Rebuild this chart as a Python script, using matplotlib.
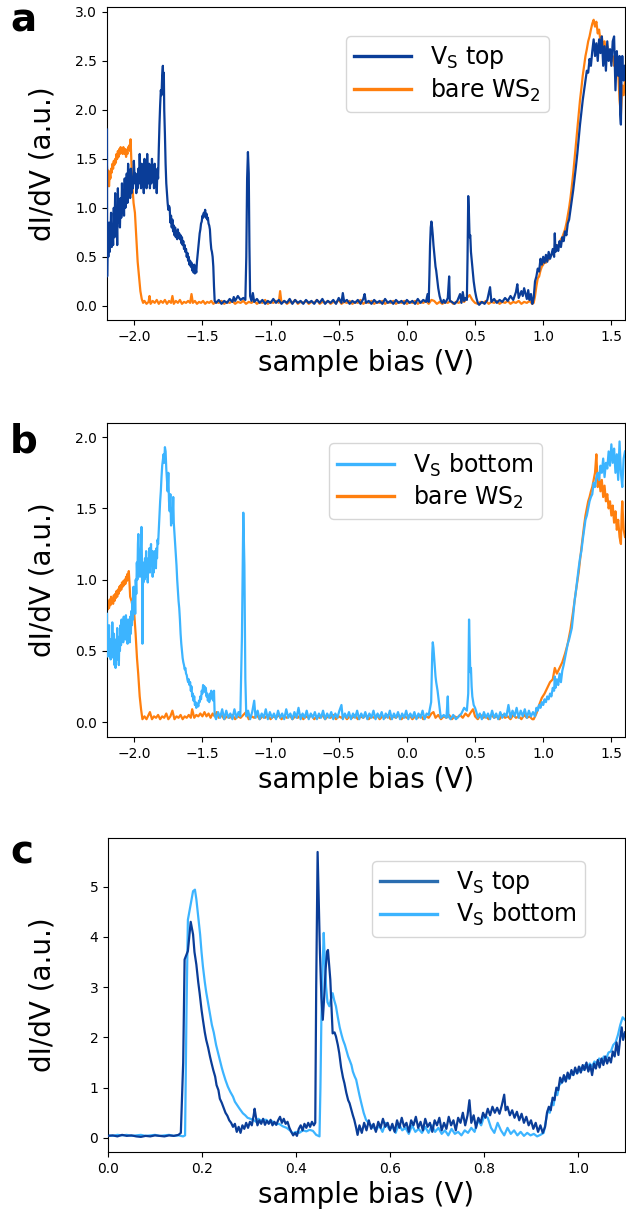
import numpy as np
import matplotlib
matplotlib.use("Agg")
import matplotlib.pyplot as plt

# colours
DARK = "#0a3d98"
LIGHT = "#3cb4ff"
ORANGE = "#ff7f0e"
TOP_LEGEND_C = "#2a6db0"

# ---------------- panel a : V_S top vs bare WS2 ----------------
a_top = [
    (-2.200, 1.80), (-2.199, 0.30), (-2.195, 0.75), (-2.190, 0.50), (-2.185, 0.85), (-2.180, 0.55),
    (-2.175, 0.70), (-2.170, 0.95), (-2.165, 0.60), (-2.160, 0.80), (-2.155, 0.62), (-2.150, 1.00),
    (-2.145, 0.70), (-2.140, 1.15), (-2.135, 0.72), (-2.130, 0.95), (-2.125, 0.62), (-2.120, 1.20),
    (-2.115, 0.85), (-2.110, 1.05), (-2.105, 0.80), (-2.100, 1.10), (-2.095, 0.90), (-2.090, 1.25),
    (-2.085, 0.95), (-2.080, 1.15), (-2.075, 0.92), (-2.070, 1.30), (-2.065, 1.00), (-2.060, 1.12),
    (-2.055, 1.35), (-2.050, 1.05), (-2.045, 1.45), (-2.040, 1.20), (-2.035, 1.32), (-2.030, 1.10),
    (-2.025, 1.40), (-2.020, 1.15), (-2.015, 1.30), (-2.010, 1.20), (-2.003, 1.48), (-1.995, 1.25),
    (-1.990, 1.35), (-1.985, 1.15), (-1.980, 1.30), (-1.975, 1.20), (-1.970, 1.40), (-1.965, 1.25),
    (-1.960, 1.55), (-1.955, 1.30), (-1.950, 1.20), (-1.945, 1.45), (-1.940, 1.25), (-1.935, 1.35),
    (-1.930, 1.15), (-1.925, 1.50), (-1.920, 1.30), (-1.915, 1.40), (-1.910, 1.20), (-1.905, 1.55),
    (-1.900, 1.30), (-1.895, 1.25), (-1.890, 1.45), (-1.885, 1.20), (-1.880, 1.35), (-1.875, 1.25),
    (-1.870, 1.50), (-1.865, 1.30), (-1.860, 1.40), (-1.855, 1.20), (-1.850, 1.45), (-1.845, 1.25),
    (-1.840, 1.35), (-1.835, 1.15), (-1.830, 1.40), (-1.825, 1.30), (-1.820, 1.60), (-1.815, 1.85),
    (-1.810, 2.05), (-1.805, 2.20), (-1.800, 2.15), (-1.795, 2.35), (-1.790, 2.45), (-1.787, 2.20),
    (-1.783, 2.38), (-1.780, 2.00), (-1.775, 1.75), (-1.770, 1.45), (-1.765, 1.25), (-1.760, 1.15),
    (-1.755, 1.05), (-1.750, 0.98), (-1.745, 1.02), (-1.740, 1.00), (-1.735, 0.85), (-1.730, 0.92),
    (-1.725, 0.80), (-1.720, 0.88), (-1.715, 0.76), (-1.710, 0.82), (-1.705, 0.72), (-1.700, 0.80),
    (-1.695, 0.70), (-1.690, 0.76), (-1.685, 0.68), (-1.680, 0.78), (-1.675, 0.70), (-1.670, 0.74),
    (-1.665, 0.68), (-1.660, 0.72), (-1.655, 0.64), (-1.650, 0.70), (-1.645, 0.62), (-1.640, 0.66),
    (-1.635, 0.58), (-1.630, 0.62), (-1.625, 0.55), (-1.620, 0.58), (-1.615, 0.50), (-1.610, 0.54),
    (-1.605, 0.46), (-1.600, 0.50), (-1.595, 0.42), (-1.590, 0.46), (-1.585, 0.40), (-1.580, 0.44),
    (-1.575, 0.36), (-1.570, 0.40), (-1.565, 0.34), (-1.560, 0.42), (-1.555, 0.33), (-1.550, 0.38),
    (-1.545, 0.34), (-1.540, 0.45), (-1.535, 0.52), (-1.530, 0.60), (-1.525, 0.66), (-1.520, 0.74),
    (-1.515, 0.78), (-1.510, 0.84), (-1.505, 0.86), (-1.500, 0.92), (-1.495, 0.90), (-1.490, 0.95),
    (-1.485, 0.92), (-1.480, 0.98), (-1.475, 0.90), (-1.470, 0.94), (-1.465, 0.88), (-1.460, 0.90),
    (-1.455, 0.84), (-1.450, 0.82), (-1.445, 0.78), (-1.440, 0.66), (-1.435, 0.58), (-1.430, 0.55),
    (-1.425, 0.50), (-1.420, 0.40), (-1.415, 0.20), (-1.410, 0.05), (-1.400, 0.03), (-1.380, 0.06),
    (-1.360, 0.02), (-1.340, 0.05), (-1.320, 0.03), (-1.300, 0.07), (-1.280, 0.04), (-1.270, 0.09),
    (-1.260, 0.05), (-1.240, 0.10), (-1.220, 0.06), (-1.200, 0.08), (-1.185, 0.06), (-1.178, 0.50),
    (-1.172, 1.30), (-1.166, 1.57), (-1.160, 1.35), (-1.155, 0.60), (-1.150, 0.10), (-1.140, 0.05),
    (-1.130, 0.13), (-1.120, 0.04), (-1.100, 0.07), (-1.080, 0.03), (-1.060, 0.06), (-1.040, 0.02),
    (-1.020, 0.05), (-1.000, 0.03), (-0.980, 0.07), (-0.960, 0.03), (-0.940, 0.06), (-0.920, 0.02),
    (-0.900, 0.05), (-0.880, 0.03), (-0.860, 0.07), (-0.840, 0.02), (-0.820, 0.06), (-0.800, 0.03),
    (-0.780, 0.05), (-0.760, 0.02), (-0.740, 0.06), (-0.720, 0.03), (-0.700, 0.05), (-0.680, 0.02),
    (-0.660, 0.06), (-0.640, 0.03), (-0.620, 0.07), (-0.600, 0.02), (-0.580, 0.05), (-0.560, 0.03),
    (-0.540, 0.06), (-0.520, 0.02), (-0.500, 0.08), (-0.480, 0.03), (-0.470, 0.13), (-0.460, 0.04),
    (-0.440, 0.06), (-0.420, 0.02), (-0.400, 0.05), (-0.380, 0.03), (-0.360, 0.06), (-0.340, 0.02),
    (-0.320, 0.07), (-0.310, 0.12), (-0.300, 0.03), (-0.280, 0.05), (-0.260, 0.02), (-0.240, 0.06),
    (-0.220, 0.03), (-0.200, 0.05), (-0.180, 0.02), (-0.160, 0.07), (-0.140, 0.03), (-0.120, 0.05),
    (-0.100, 0.02), (-0.080, 0.06), (-0.060, 0.03), (-0.040, 0.05), (-0.020, 0.02), (0.000, 0.06),
    (0.020, 0.03), (0.040, 0.05), (0.060, 0.02), (0.080, 0.07), (0.100, 0.03), (0.120, 0.06),
    (0.140, 0.04), (0.152, 0.12), (0.160, 0.04), (0.165, 0.30), (0.170, 0.62), (0.175, 0.80),
    (0.180, 0.86), (0.185, 0.80), (0.190, 0.72), (0.195, 0.62), (0.200, 0.55), (0.205, 0.48),
    (0.210, 0.40), (0.215, 0.36), (0.220, 0.30), (0.225, 0.24), (0.230, 0.18), (0.240, 0.10),
    (0.250, 0.05), (0.260, 0.03), (0.270, 0.06), (0.280, 0.03), (0.290, 0.05), (0.300, 0.08),
    (0.310, 0.30), (0.315, 0.05), (0.330, 0.04), (0.350, 0.02), (0.370, 0.05), (0.390, 0.12),
    (0.400, 0.03), (0.410, 0.14), (0.420, 0.05), (0.430, 0.08), (0.440, 0.06), (0.445, 0.50),
    (0.450, 1.12), (0.455, 0.95), (0.460, 0.70), (0.465, 0.72), (0.470, 0.55), (0.475, 0.48),
    (0.480, 0.40), (0.490, 0.25), (0.500, 0.15), (0.510, 0.08), (0.520, 0.03), (0.530, 0.01),
    (0.550, 0.04), (0.570, 0.02), (0.590, 0.06), (0.610, 0.19), (0.620, 0.04), (0.640, 0.07),
    (0.660, 0.03), (0.680, 0.06), (0.700, 0.04), (0.720, 0.08), (0.740, 0.05), (0.760, 0.10),
    (0.780, 0.06), (0.800, 0.14), (0.810, 0.22), (0.820, 0.08), (0.840, 0.15), (0.850, 0.10),
    (0.860, 0.18), (0.880, 0.07), (0.890, 0.16), (0.900, 0.06), (0.910, 0.12), (0.920, 0.02),
    (0.930, 0.08), (0.940, 0.25), (0.950, 0.30), (0.960, 0.38), (0.970, 0.35), (0.980, 0.48),
    (0.990, 0.42), (1.000, 0.50), (1.010, 0.44), (1.020, 0.52), (1.030, 0.45), (1.040, 0.55),
    (1.050, 0.48), (1.060, 0.52), (1.070, 0.58), (1.080, 0.50), (1.085, 0.74), (1.090, 0.55),
    (1.100, 0.62), (1.110, 0.56), (1.120, 0.66), (1.130, 0.60), (1.140, 0.70), (1.150, 0.66),
    (1.160, 0.76), (1.170, 0.72), (1.180, 0.84), (1.190, 0.88), (1.200, 0.98), (1.210, 1.08),
    (1.220, 1.18), (1.230, 1.30), (1.240, 1.42), (1.250, 1.55), (1.260, 1.70), (1.270, 1.85),
    (1.280, 1.98), (1.290, 2.10), (1.300, 2.20), (1.310, 2.30), (1.320, 2.40), (1.330, 2.38),
    (1.340, 2.52), (1.350, 2.45), (1.360, 2.60), (1.370, 2.72), (1.380, 2.55), (1.390, 2.68),
    (1.400, 2.50), (1.410, 2.72), (1.420, 2.58), (1.430, 2.75), (1.440, 2.45), (1.450, 2.65),
    (1.460, 2.40), (1.470, 2.70), (1.480, 2.50), (1.490, 2.62), (1.500, 2.45), (1.510, 2.70),
    (1.520, 2.75), (1.530, 2.20), (1.540, 2.60), (1.550, 2.35), (1.560, 2.55), (1.565, 1.95),
    (1.570, 1.85), (1.575, 2.40), (1.580, 2.55), (1.590, 2.30), (1.600, 2.45),
]

a_bare = [
    (-2.200, 1.42), (-2.195, 1.30), (-2.190, 1.38), (-2.185, 1.22), (-2.180, 1.35), (-2.175, 1.30),
    (-2.170, 1.40), (-2.165, 1.36), (-2.160, 1.45), (-2.155, 1.40), (-2.150, 1.48), (-2.145, 1.44),
    (-2.140, 1.50), (-2.135, 1.46), (-2.130, 1.55), (-2.125, 1.50), (-2.120, 1.58), (-2.115, 1.52),
    (-2.110, 1.60), (-2.105, 1.55), (-2.100, 1.62), (-2.095, 1.56), (-2.090, 1.60), (-2.085, 1.55),
    (-2.080, 1.62), (-2.075, 1.58), (-2.070, 1.55), (-2.065, 1.60), (-2.060, 1.52), (-2.055, 1.58),
    (-2.050, 1.55), (-2.045, 1.62), (-2.040, 1.60), (-2.035, 1.64), (-2.030, 1.58), (-2.027, 1.70),
    (-2.022, 1.50), (-2.015, 1.25), (-2.005, 1.05), (-1.995, 0.95), (-1.985, 0.70), (-1.975, 0.45),
    (-1.965, 0.30), (-1.955, 0.15), (-1.945, 0.07), (-1.935, 0.03), (-1.925, 0.05), (-1.910, 0.02),
    (-1.895, 0.04), (-1.888, 0.10), (-1.880, 0.02), (-1.865, 0.05), (-1.850, 0.03), (-1.835, 0.06),
    (-1.820, 0.02), (-1.805, 0.05), (-1.790, 0.03), (-1.775, 0.06), (-1.760, 0.02), (-1.745, 0.05),
    (-1.730, 0.03), (-1.720, 0.10), (-1.710, 0.02), (-1.695, 0.05), (-1.680, 0.03), (-1.665, 0.06),
    (-1.650, 0.02), (-1.635, 0.04), (-1.620, 0.03), (-1.605, 0.05), (-1.590, 0.03), (-1.580, 0.12),
    (-1.570, 0.03), (-1.555, 0.05), (-1.540, 0.02), (-1.525, 0.04), (-1.510, 0.03), (-1.495, 0.05),
    (-1.480, 0.02), (-1.465, 0.04), (-1.450, 0.03), (-1.435, 0.05), (-1.420, 0.02), (-1.400, 0.04),
    (-1.380, 0.03), (-1.360, 0.05), (-1.340, 0.02), (-1.320, 0.04), (-1.300, 0.03), (-1.280, 0.05),
    (-1.260, 0.02), (-1.240, 0.04), (-1.220, 0.03), (-1.200, 0.05), (-1.180, 0.02), (-1.160, 0.04),
    (-1.140, 0.03), (-1.120, 0.05), (-1.100, 0.02), (-1.080, 0.04), (-1.060, 0.03), (-1.040, 0.06),
    (-1.020, 0.02), (-1.000, 0.04), (-0.980, 0.03), (-0.960, 0.05), (-0.940, 0.03), (-0.930, 0.15),
    (-0.920, 0.03), (-0.900, 0.05), (-0.880, 0.02), (-0.860, 0.04), (-0.840, 0.03), (-0.820, 0.06),
    (-0.800, 0.02), (-0.780, 0.04), (-0.760, 0.03), (-0.740, 0.05), (-0.720, 0.02), (-0.700, 0.04),
    (-0.680, 0.03), (-0.660, 0.06), (-0.640, 0.02), (-0.620, 0.04), (-0.600, 0.03), (-0.580, 0.05),
    (-0.560, 0.02), (-0.540, 0.04), (-0.520, 0.03), (-0.500, 0.06), (-0.480, 0.02), (-0.460, 0.04),
    (-0.440, 0.03), (-0.420, 0.05), (-0.400, 0.02), (-0.380, 0.04), (-0.360, 0.03), (-0.340, 0.06),
    (-0.320, 0.02), (-0.300, 0.04), (-0.280, 0.03), (-0.260, 0.05), (-0.240, 0.02), (-0.220, 0.04),
    (-0.200, 0.03), (-0.180, 0.05), (-0.160, 0.02), (-0.140, 0.04), (-0.120, 0.03), (-0.100, 0.05),
    (-0.080, 0.02), (-0.060, 0.04), (-0.040, 0.03), (-0.020, 0.05), (0.000, 0.02), (0.020, 0.04),
    (0.040, 0.03), (0.060, 0.05), (0.080, 0.02), (0.100, 0.04), (0.120, 0.03), (0.140, 0.05),
    (0.160, 0.02), (0.180, 0.06), (0.200, 0.05), (0.220, 0.02), (0.240, 0.04), (0.260, 0.02),
    (0.280, 0.04), (0.300, 0.03), (0.320, 0.05), (0.340, 0.02), (0.360, 0.04), (0.380, 0.03),
    (0.400, 0.05), (0.420, 0.04), (0.440, 0.08), (0.460, 0.11), (0.480, 0.06), (0.500, 0.03),
    (0.520, 0.02), (0.540, 0.04), (0.560, 0.03), (0.580, 0.05), (0.600, 0.02), (0.620, 0.04),
    (0.640, 0.03), (0.660, 0.05), (0.680, 0.02), (0.700, 0.04), (0.720, 0.03), (0.740, 0.05),
    (0.760, 0.02), (0.780, 0.04), (0.800, 0.03), (0.820, 0.05), (0.840, 0.02), (0.860, 0.04),
    (0.880, 0.03), (0.900, 0.05), (0.920, 0.02), (0.930, 0.03), (0.940, 0.10), (0.950, 0.20),
    (0.960, 0.28), (0.970, 0.30), (0.980, 0.36), (0.990, 0.40), (1.000, 0.42), (1.010, 0.45),
    (1.020, 0.44), (1.030, 0.48), (1.040, 0.47), (1.050, 0.50), (1.060, 0.52), (1.070, 0.55),
    (1.080, 0.56), (1.090, 0.58), (1.100, 0.60), (1.110, 0.62), (1.120, 0.64), (1.130, 0.68),
    (1.140, 0.70), (1.150, 0.74), (1.160, 0.78), (1.170, 0.84), (1.180, 0.92), (1.190, 1.00),
    (1.200, 1.10), (1.210, 1.22), (1.220, 1.35), (1.230, 1.50), (1.240, 1.65), (1.250, 1.80),
    (1.260, 1.95), (1.270, 2.10), (1.280, 2.22), (1.290, 2.35), (1.300, 2.45), (1.310, 2.55),
    (1.320, 2.62), (1.330, 2.70), (1.340, 2.75), (1.350, 2.82), (1.360, 2.88), (1.370, 2.92),
    (1.380, 2.85), (1.390, 2.90), (1.400, 2.78), (1.410, 2.82), (1.420, 2.70), (1.430, 2.75),
    (1.440, 2.62), (1.450, 2.70), (1.460, 2.58), (1.470, 2.65), (1.480, 2.55), (1.490, 2.60),
    (1.500, 2.50), (1.510, 2.55), (1.520, 2.45), (1.530, 2.50), (1.540, 2.35), (1.550, 2.40),
    (1.560, 2.10), (1.570, 1.95), (1.580, 2.25), (1.590, 2.15), (1.600, 2.30),
]

# ---------------- panel b : V_S bottom vs bare WS2 ----------------
b_bot = [
    (-2.200, 0.76), (-2.197, 0.46), (-2.193, 0.62), (-2.189, 0.50), (-2.185, 0.68), (-2.181, 0.46),
    (-2.177, 0.58), (-2.173, 0.44), (-2.169, 0.56), (-2.165, 0.50), (-2.161, 0.70), (-2.157, 0.52),
    (-2.153, 0.45), (-2.149, 0.62), (-2.145, 0.40), (-2.141, 0.55), (-2.137, 0.38), (-2.133, 0.58),
    (-2.129, 0.48), (-2.125, 0.66), (-2.121, 0.44), (-2.117, 0.56), (-2.113, 0.40), (-2.109, 0.60),
    (-2.105, 0.50), (-2.101, 0.68), (-2.097, 0.54), (-2.093, 0.72), (-2.089, 0.58), (-2.085, 0.68),
    (-2.081, 0.56), (-2.077, 0.74), (-2.073, 0.60), (-2.069, 0.70), (-2.065, 0.58), (-2.061, 0.75),
    (-2.057, 0.62), (-2.053, 0.68), (-2.049, 0.55), (-2.045, 0.72), (-2.041, 0.60), (-2.037, 0.66),
    (-2.033, 0.56), (-2.029, 0.74), (-2.025, 0.62), (-2.021, 0.78), (-2.017, 0.68), (-2.013, 0.85),
    (-2.009, 0.72), (-2.005, 0.95), (-2.001, 0.80), (-1.997, 0.92), (-1.993, 0.76), (-1.989, 1.00),
    (-1.985, 0.90), (-1.981, 1.12), (-1.977, 1.00), (-1.973, 1.25), (-1.970, 1.32), (-1.966, 1.08),
    (-1.962, 1.20), (-1.958, 1.02), (-1.954, 1.15), (-1.950, 1.30), (-1.947, 1.37), (-1.943, 1.10),
    (-1.940, 0.55), (-1.937, 1.05), (-1.933, 0.98), (-1.929, 1.12), (-1.925, 1.00), (-1.921, 1.15),
    (-1.917, 1.02), (-1.913, 1.20), (-1.909, 1.05), (-1.905, 1.10), (-1.901, 0.98), (-1.897, 1.15),
    (-1.893, 1.08), (-1.889, 1.22), (-1.885, 1.05), (-1.881, 1.18), (-1.877, 1.25), (-1.873, 1.10),
    (-1.869, 1.20), (-1.865, 1.02), (-1.861, 1.12), (-1.857, 1.05), (-1.853, 1.20), (-1.849, 1.10),
    (-1.845, 1.18), (-1.841, 1.08), (-1.837, 1.22), (-1.833, 1.15), (-1.829, 1.28), (-1.825, 1.25),
    (-1.820, 1.35), (-1.815, 1.45), (-1.810, 1.55), (-1.805, 1.62), (-1.800, 1.72), (-1.795, 1.80),
    (-1.790, 1.84), (-1.785, 1.88), (-1.780, 1.82), (-1.775, 1.93), (-1.770, 1.90), (-1.765, 1.78),
    (-1.760, 1.70), (-1.755, 1.62), (-1.750, 1.75), (-1.745, 1.55), (-1.740, 1.48), (-1.735, 1.60),
    (-1.730, 1.38), (-1.725, 1.50), (-1.720, 1.40), (-1.714, 1.58), (-1.710, 1.40), (-1.705, 1.32),
    (-1.700, 1.25), (-1.695, 1.18), (-1.690, 1.10), (-1.685, 1.00), (-1.680, 0.92), (-1.675, 0.85),
    (-1.670, 0.80), (-1.665, 0.72), (-1.660, 0.62), (-1.655, 0.55), (-1.650, 0.50), (-1.645, 0.45),
    (-1.640, 0.42), (-1.635, 0.40), (-1.630, 0.37), (-1.625, 0.38), (-1.620, 0.34), (-1.615, 0.33),
    (-1.610, 0.30), (-1.605, 0.28), (-1.600, 0.30), (-1.595, 0.26), (-1.590, 0.28), (-1.585, 0.22),
    (-1.580, 0.25), (-1.575, 0.18), (-1.570, 0.20), (-1.565, 0.15), (-1.560, 0.18), (-1.555, 0.12),
    (-1.550, 0.14), (-1.545, 0.10), (-1.540, 0.12), (-1.535, 0.13), (-1.530, 0.11), (-1.525, 0.15),
    (-1.520, 0.14), (-1.515, 0.18), (-1.510, 0.16), (-1.505, 0.22), (-1.500, 0.20), (-1.495, 0.26),
    (-1.490, 0.22), (-1.485, 0.25), (-1.480, 0.21), (-1.475, 0.24), (-1.470, 0.18), (-1.465, 0.20),
    (-1.460, 0.15), (-1.455, 0.18), (-1.450, 0.14), (-1.445, 0.20), (-1.440, 0.16), (-1.435, 0.22),
    (-1.430, 0.18), (-1.425, 0.21), (-1.420, 0.15), (-1.415, 0.22), (-1.410, 0.05), (-1.400, 0.02),
    (-1.385, 0.07), (-1.370, 0.03), (-1.355, 0.09), (-1.340, 0.02), (-1.325, 0.08), (-1.310, 0.03),
    (-1.295, 0.06), (-1.280, 0.02), (-1.265, 0.09), (-1.250, 0.03), (-1.235, 0.07), (-1.222, 0.04),
    (-1.210, 0.60), (-1.200, 1.47), (-1.192, 1.10), (-1.185, 0.30), (-1.178, 0.04), (-1.165, 0.08),
    (-1.150, 0.02), (-1.135, 0.07), (-1.120, 0.15), (-1.110, 0.03), (-1.095, 0.08), (-1.080, 0.02),
    (-1.065, 0.06), (-1.050, 0.03), (-1.035, 0.09), (-1.020, 0.02), (-1.005, 0.07), (-0.990, 0.03),
    (-0.975, 0.06), (-0.960, 0.02), (-0.945, 0.08), (-0.930, 0.03), (-0.915, 0.06), (-0.900, 0.02),
    (-0.885, 0.09), (-0.870, 0.03), (-0.855, 0.06), (-0.840, 0.02), (-0.825, 0.07), (-0.810, 0.03),
    (-0.795, 0.10), (-0.780, 0.02), (-0.765, 0.06), (-0.750, 0.03), (-0.735, 0.08), (-0.720, 0.02),
    (-0.705, 0.06), (-0.690, 0.03), (-0.675, 0.07), (-0.660, 0.02), (-0.645, 0.06), (-0.630, 0.03),
    (-0.615, 0.08), (-0.600, 0.02), (-0.585, 0.06), (-0.570, 0.03), (-0.555, 0.07), (-0.540, 0.02),
    (-0.525, 0.06), (-0.510, 0.03), (-0.495, 0.08), (-0.480, 0.12), (-0.470, 0.02), (-0.455, 0.06),
    (-0.440, 0.03), (-0.425, 0.07), (-0.410, 0.02), (-0.395, 0.06), (-0.380, 0.03), (-0.365, 0.08),
    (-0.350, 0.02), (-0.335, 0.06), (-0.320, 0.03), (-0.305, 0.07), (-0.290, 0.02), (-0.275, 0.06),
    (-0.260, 0.03), (-0.245, 0.08), (-0.230, 0.02), (-0.215, 0.06), (-0.200, 0.03), (-0.185, 0.07),
    (-0.170, 0.02), (-0.155, 0.06), (-0.140, 0.03), (-0.125, 0.08), (-0.110, 0.02), (-0.095, 0.06),
    (-0.080, 0.03), (-0.065, 0.07), (-0.050, 0.02), (-0.035, 0.06), (-0.020, 0.03), (-0.005, 0.08),
    (0.010, 0.02), (0.025, 0.06), (0.040, 0.03), (0.055, 0.07), (0.070, 0.02), (0.085, 0.06),
    (0.100, 0.03), (0.115, 0.08), (0.130, 0.02), (0.145, 0.06), (0.160, 0.05), (0.170, 0.10),
    (0.178, 0.14), (0.182, 0.30), (0.186, 0.48), (0.190, 0.56), (0.195, 0.52), (0.200, 0.45),
    (0.205, 0.38), (0.210, 0.32), (0.215, 0.28), (0.220, 0.25), (0.225, 0.22), (0.230, 0.18),
    (0.235, 0.14), (0.240, 0.10), (0.245, 0.06), (0.250, 0.03), (0.270, 0.05), (0.290, 0.03),
    (0.300, 0.18), (0.305, 0.04), (0.320, 0.02), (0.340, 0.05), (0.360, 0.02), (0.380, 0.04),
    (0.400, 0.06), (0.420, 0.10), (0.440, 0.08), (0.450, 0.20), (0.456, 0.72), (0.460, 0.55),
    (0.465, 0.35), (0.470, 0.38), (0.475, 0.25), (0.480, 0.18), (0.490, 0.12), (0.500, 0.10),
    (0.510, 0.07), (0.520, 0.03), (0.535, 0.06), (0.550, 0.02), (0.565, 0.07), (0.580, 0.03),
    (0.595, 0.06), (0.610, 0.02), (0.625, 0.08), (0.640, 0.03), (0.655, 0.06), (0.670, 0.02),
    (0.685, 0.07), (0.700, 0.03), (0.715, 0.06), (0.730, 0.04), (0.745, 0.12), (0.760, 0.03),
    (0.775, 0.08), (0.790, 0.04), (0.805, 0.10), (0.820, 0.03), (0.835, 0.08), (0.850, 0.04),
    (0.865, 0.09), (0.880, 0.03), (0.895, 0.08), (0.910, 0.04), (0.925, 0.07), (0.940, 0.04),
    (0.950, 0.10), (0.960, 0.08), (0.970, 0.12), (0.980, 0.10), (0.990, 0.14), (1.000, 0.12),
    (1.010, 0.16), (1.020, 0.14), (1.030, 0.18), (1.040, 0.16), (1.050, 0.20), (1.060, 0.18),
    (1.070, 0.24), (1.080, 0.22), (1.085, 0.32), (1.090, 0.24), (1.100, 0.30), (1.110, 0.26),
    (1.120, 0.34), (1.130, 0.28), (1.140, 0.36), (1.150, 0.40), (1.160, 0.45), (1.170, 0.50),
    (1.180, 0.55), (1.190, 0.58), (1.200, 0.62), (1.210, 0.66), (1.220, 0.75), (1.230, 0.85),
    (1.240, 0.92), (1.250, 1.00), (1.260, 1.08), (1.270, 1.15), (1.280, 1.20), (1.290, 1.28),
    (1.300, 1.35), (1.310, 1.42), (1.320, 1.45), (1.330, 1.50), (1.340, 1.55), (1.350, 1.58),
    (1.360, 1.60), (1.370, 1.68), (1.380, 1.65), (1.390, 1.72), (1.400, 1.75), (1.410, 1.70),
    (1.420, 1.80), (1.430, 1.75), (1.440, 1.85), (1.450, 1.72), (1.460, 1.82), (1.470, 1.78),
    (1.480, 1.90), (1.490, 1.80), (1.500, 1.95), (1.510, 1.82), (1.520, 1.92), (1.530, 1.75),
    (1.540, 1.88), (1.550, 1.70), (1.560, 1.97), (1.570, 1.75), (1.580, 1.65), (1.590, 1.85),
    (1.600, 1.90),
]

b_bare = [
    (-2.200, 0.86), (-2.195, 0.79), (-2.190, 0.84), (-2.185, 0.80), (-2.180, 0.86), (-2.175, 0.82),
    (-2.170, 0.88), (-2.165, 0.84), (-2.160, 0.86), (-2.155, 0.83), (-2.150, 0.89), (-2.145, 0.85),
    (-2.140, 0.90), (-2.135, 0.87), (-2.130, 0.92), (-2.125, 0.88), (-2.120, 0.93), (-2.115, 0.90),
    (-2.110, 0.95), (-2.105, 0.92), (-2.100, 0.96), (-2.095, 0.93), (-2.090, 0.98), (-2.085, 0.95),
    (-2.080, 0.99), (-2.075, 0.96), (-2.070, 1.00), (-2.065, 0.97), (-2.060, 1.02), (-2.055, 0.99),
    (-2.050, 1.04), (-2.045, 1.00), (-2.040, 1.06), (-2.035, 0.98), (-2.030, 0.88), (-2.020, 0.85),
    (-2.010, 0.80), (-2.000, 0.76), (-1.990, 0.62), (-1.980, 0.45), (-1.971, 0.34), (-1.960, 0.18),
    (-1.950, 0.09), (-1.940, 0.02), (-1.925, 0.04), (-1.910, 0.02), (-1.895, 0.05), (-1.885, 0.07),
    (-1.870, 0.02), (-1.855, 0.04), (-1.840, 0.03), (-1.825, 0.05), (-1.810, 0.02), (-1.795, 0.04),
    (-1.780, 0.03), (-1.765, 0.06), (-1.750, 0.02), (-1.735, 0.04), (-1.720, 0.08), (-1.705, 0.02),
    (-1.690, 0.04), (-1.675, 0.03), (-1.660, 0.05), (-1.645, 0.02), (-1.630, 0.04), (-1.615, 0.03),
    (-1.600, 0.05), (-1.585, 0.03), (-1.575, 0.09), (-1.560, 0.03), (-1.545, 0.05), (-1.530, 0.04),
    (-1.515, 0.06), (-1.500, 0.04), (-1.485, 0.07), (-1.470, 0.04), (-1.455, 0.06), (-1.440, 0.03),
    (-1.425, 0.06), (-1.410, 0.04), (-1.395, 0.07), (-1.380, 0.03), (-1.360, 0.05), (-1.340, 0.02),
    (-1.320, 0.04), (-1.300, 0.03), (-1.280, 0.05), (-1.260, 0.02), (-1.240, 0.04), (-1.220, 0.03),
    (-1.200, 0.05), (-1.180, 0.07), (-1.160, 0.02), (-1.140, 0.04), (-1.120, 0.03), (-1.100, 0.05),
    (-1.080, 0.02), (-1.060, 0.04), (-1.040, 0.03), (-1.020, 0.05), (-1.000, 0.02), (-0.980, 0.04),
    (-0.960, 0.03), (-0.940, 0.05), (-0.920, 0.02), (-0.900, 0.04), (-0.880, 0.03), (-0.860, 0.05),
    (-0.840, 0.02), (-0.820, 0.04), (-0.800, 0.03), (-0.780, 0.05), (-0.760, 0.02), (-0.740, 0.04),
    (-0.720, 0.03), (-0.700, 0.05), (-0.680, 0.02), (-0.660, 0.04), (-0.640, 0.03), (-0.620, 0.05),
    (-0.600, 0.02), (-0.580, 0.04), (-0.560, 0.03), (-0.540, 0.05), (-0.520, 0.02), (-0.500, 0.04),
    (-0.480, 0.03), (-0.460, 0.05), (-0.440, 0.02), (-0.420, 0.04), (-0.400, 0.03), (-0.380, 0.05),
    (-0.360, 0.02), (-0.340, 0.04), (-0.320, 0.03), (-0.300, 0.05), (-0.280, 0.02), (-0.260, 0.04),
    (-0.240, 0.03), (-0.220, 0.05), (-0.200, 0.02), (-0.180, 0.04), (-0.160, 0.03), (-0.140, 0.05),
    (-0.120, 0.02), (-0.100, 0.04), (-0.080, 0.03), (-0.060, 0.05), (-0.040, 0.02), (-0.020, 0.04),
    (0.000, 0.03), (0.020, 0.05), (0.040, 0.02), (0.060, 0.04), (0.080, 0.03), (0.100, 0.05),
    (0.120, 0.02), (0.140, 0.04), (0.160, 0.03), (0.180, 0.06), (0.195, 0.07), (0.210, 0.03),
    (0.230, 0.05), (0.250, 0.02), (0.270, 0.04), (0.290, 0.03), (0.310, 0.05), (0.330, 0.02),
    (0.350, 0.04), (0.370, 0.03), (0.390, 0.05), (0.410, 0.03), (0.430, 0.06), (0.450, 0.04),
    (0.470, 0.07), (0.485, 0.09), (0.500, 0.04), (0.520, 0.02), (0.540, 0.05), (0.560, 0.03),
    (0.580, 0.04), (0.600, 0.02), (0.620, 0.05), (0.640, 0.03), (0.660, 0.04), (0.680, 0.02),
    (0.700, 0.05), (0.720, 0.03), (0.740, 0.04), (0.760, 0.02), (0.780, 0.05), (0.800, 0.03),
    (0.820, 0.04), (0.840, 0.02), (0.860, 0.05), (0.880, 0.03), (0.900, 0.04), (0.920, 0.02),
    (0.930, 0.02), (0.950, 0.06), (0.970, 0.12), (0.990, 0.17), (1.010, 0.20), (1.030, 0.24),
    (1.050, 0.28), (1.070, 0.30), (1.085, 0.38), (1.100, 0.34), (1.120, 0.38), (1.140, 0.42),
    (1.160, 0.48), (1.180, 0.55), (1.200, 0.65), (1.220, 0.78), (1.240, 0.92), (1.260, 1.05),
    (1.280, 1.22), (1.300, 1.38), (1.310, 1.45), (1.320, 1.50), (1.330, 1.55), (1.340, 1.58),
    (1.350, 1.62), (1.360, 1.65), (1.370, 1.70), (1.380, 1.75), (1.390, 1.88), (1.400, 1.65),
    (1.410, 1.72), (1.420, 1.62), (1.430, 1.70), (1.440, 1.58), (1.450, 1.66), (1.460, 1.55),
    (1.470, 1.60), (1.480, 1.50), (1.490, 1.55), (1.500, 1.45), (1.510, 1.52), (1.520, 1.40),
    (1.530, 1.48), (1.540, 1.35), (1.550, 1.42), (1.560, 1.30), (1.570, 1.25), (1.575, 1.45),
    (1.580, 1.55), (1.590, 1.35), (1.600, 1.30),
]

# ---------------- panel c : V_S top vs V_S bottom (zoom) ----------------
c_top = [
    (0.000, 0.04), (0.010, 0.05), (0.020, 0.03), (0.030, 0.06), (0.040, 0.04), (0.050, 0.05),
    (0.060, 0.03), (0.070, 0.02), (0.080, 0.04), (0.090, 0.03), (0.100, 0.05), (0.110, 0.04),
    (0.120, 0.03), (0.130, 0.05), (0.140, 0.04), (0.150, 0.06), (0.155, 0.10), (0.160, 1.50),
    (0.163, 3.55), (0.167, 3.65), (0.170, 3.72), (0.173, 4.00), (0.176, 4.30), (0.178, 4.20),
    (0.181, 4.05), (0.184, 3.70), (0.188, 3.45), (0.192, 3.10), (0.195, 2.88), (0.199, 2.55),
    (0.202, 2.35), (0.206, 2.10), (0.209, 1.95), (0.213, 1.80), (0.217, 1.62), (0.220, 1.50),
    (0.224, 1.35), (0.228, 1.22), (0.231, 1.05), (0.235, 0.95), (0.238, 0.78), (0.242, 0.70),
    (0.246, 0.60), (0.250, 0.50), (0.254, 0.44), (0.258, 0.35), (0.262, 0.30), (0.266, 0.22),
    (0.270, 0.28), (0.274, 0.12), (0.278, 0.22), (0.282, 0.10), (0.286, 0.25), (0.290, 0.18),
    (0.294, 0.30), (0.298, 0.20), (0.302, 0.32), (0.306, 0.25), (0.310, 0.45), (0.312, 0.58),
    (0.315, 0.40), (0.318, 0.25), (0.322, 0.35), (0.326, 0.28), (0.330, 0.38), (0.334, 0.26),
    (0.338, 0.34), (0.342, 0.28), (0.346, 0.36), (0.350, 0.25), (0.354, 0.32), (0.358, 0.26),
    (0.362, 0.35), (0.366, 0.42), (0.370, 0.30), (0.374, 0.38), (0.378, 0.28), (0.382, 0.32),
    (0.386, 0.20), (0.390, 0.12), (0.394, 0.05), (0.398, 0.10), (0.402, 0.04), (0.406, 0.18),
    (0.410, 0.25), (0.414, 0.15), (0.418, 0.28), (0.422, 0.20), (0.426, 0.30), (0.430, 0.22),
    (0.434, 0.32), (0.438, 0.25), (0.441, 0.30), (0.443, 3.00), (0.446, 5.69), (0.449, 4.50),
    (0.451, 3.68), (0.454, 2.80), (0.457, 2.35), (0.460, 2.80), (0.463, 3.35), (0.466, 3.70),
    (0.468, 3.74), (0.471, 3.40), (0.473, 3.15), (0.476, 2.50), (0.478, 2.08), (0.482, 2.10),
    (0.485, 2.02), (0.489, 1.85), (0.492, 1.69), (0.496, 1.40), (0.500, 1.20), (0.503, 1.09),
    (0.507, 0.90), (0.511, 0.75), (0.514, 0.69), (0.518, 0.55), (0.521, 0.45), (0.524, 0.36),
    (0.528, 0.20), (0.531, 0.06), (0.535, 0.25), (0.540, 0.10), (0.545, 0.30), (0.550, 0.15),
    (0.555, 0.35), (0.560, 0.18), (0.565, 0.28), (0.570, 0.12), (0.575, 0.32), (0.580, 0.20),
    (0.585, 0.38), (0.590, 0.22), (0.595, 0.30), (0.600, 0.15), (0.605, 0.28), (0.610, 0.12),
    (0.615, 0.35), (0.620, 0.20), (0.625, 0.40), (0.630, 0.22), (0.635, 0.30), (0.640, 0.12),
    (0.645, 0.35), (0.650, 0.25), (0.655, 0.42), (0.660, 0.20), (0.665, 0.32), (0.670, 0.15),
    (0.675, 0.38), (0.680, 0.22), (0.685, 0.30), (0.690, 0.12), (0.695, 0.35), (0.700, 0.25),
    (0.705, 0.40), (0.710, 0.15), (0.715, 0.30), (0.720, 0.18), (0.725, 0.42), (0.730, 0.25),
    (0.735, 0.35), (0.740, 0.15), (0.745, 0.40), (0.750, 0.30), (0.755, 0.50), (0.760, 0.25),
    (0.765, 0.45), (0.769, 0.75), (0.773, 0.30), (0.778, 0.45), (0.783, 0.20), (0.788, 0.40),
    (0.793, 0.30), (0.798, 0.50), (0.803, 0.40), (0.808, 0.58), (0.813, 0.45), (0.818, 0.62),
    (0.823, 0.50), (0.828, 0.60), (0.833, 0.48), (0.838, 0.65), (0.843, 0.86), (0.846, 0.55),
    (0.850, 0.62), (0.855, 0.45), (0.860, 0.55), (0.865, 0.40), (0.870, 0.52), (0.875, 0.35),
    (0.880, 0.48), (0.885, 0.30), (0.890, 0.42), (0.895, 0.25), (0.900, 0.35), (0.905, 0.18),
    (0.910, 0.30), (0.915, 0.12), (0.920, 0.25), (0.925, 0.10), (0.930, 0.22), (0.934, 0.50),
    (0.938, 0.62), (0.942, 0.55), (0.946, 0.80), (0.950, 0.75), (0.954, 1.00), (0.958, 0.95),
    (0.962, 1.20), (0.966, 1.10), (0.970, 1.25), (0.974, 1.12), (0.978, 1.30), (0.982, 1.18),
    (0.986, 1.35), (0.990, 1.25), (0.994, 1.40), (0.998, 1.28), (1.002, 1.42), (1.006, 1.30),
    (1.010, 1.45), (1.014, 1.35), (1.018, 1.50), (1.022, 1.32), (1.026, 1.45), (1.030, 1.25),
    (1.034, 1.48), (1.038, 1.38), (1.042, 1.55), (1.046, 1.40), (1.050, 1.58), (1.054, 1.45),
    (1.058, 1.62), (1.062, 1.48), (1.066, 1.60), (1.070, 1.50), (1.074, 1.72), (1.078, 1.62),
    (1.082, 1.90), (1.086, 1.65), (1.090, 2.00), (1.093, 2.20), (1.096, 1.95), (1.100, 2.10),
]

c_bot = [
    (0.000, 0.05), (0.010, 0.04), (0.020, 0.06), (0.030, 0.05), (0.040, 0.06), (0.050, 0.04),
    (0.060, 0.05), (0.070, 0.06), (0.080, 0.04), (0.090, 0.05), (0.100, 0.06), (0.110, 0.04),
    (0.120, 0.05), (0.130, 0.06), (0.140, 0.04), (0.150, 0.05), (0.160, 0.03), (0.164, 0.05),
    (0.167, 2.50), (0.170, 4.34), (0.174, 4.55), (0.178, 4.75), (0.181, 4.91), (0.185, 4.94),
    (0.188, 4.75), (0.192, 4.41), (0.196, 4.05), (0.199, 3.70), (0.202, 3.41), (0.206, 3.10),
    (0.209, 2.90), (0.213, 2.68), (0.217, 2.45), (0.221, 2.25), (0.225, 2.10), (0.230, 1.85),
    (0.234, 1.70), (0.238, 1.55), (0.242, 1.40), (0.245, 1.30), (0.250, 1.15), (0.255, 1.02),
    (0.260, 0.92), (0.266, 0.82), (0.270, 0.72), (0.275, 0.65), (0.280, 0.58), (0.287, 0.49),
    (0.292, 0.45), (0.297, 0.40), (0.303, 0.38), (0.309, 0.36), (0.315, 0.32), (0.320, 0.38),
    (0.326, 0.34), (0.331, 0.36), (0.337, 0.36), (0.343, 0.30), (0.350, 0.33), (0.357, 0.27),
    (0.364, 0.28), (0.372, 0.23), (0.380, 0.20), (0.387, 0.15), (0.393, 0.09), (0.400, 0.12),
    (0.407, 0.10), (0.415, 0.15), (0.422, 0.13), (0.429, 0.16), (0.436, 0.14), (0.443, 0.06),
    (0.450, 0.03), (0.452, 1.00), (0.454, 2.35), (0.457, 3.50), (0.459, 4.08), (0.461, 3.60),
    (0.464, 3.01), (0.467, 2.70), (0.471, 2.62), (0.474, 2.75), (0.478, 2.88), (0.481, 2.75),
    (0.485, 2.62), (0.489, 2.40), (0.493, 2.20), (0.497, 2.05), (0.500, 1.95), (0.504, 1.85),
    (0.507, 1.75), (0.511, 1.62), (0.514, 1.55), (0.518, 1.45), (0.521, 1.32), (0.525, 1.22),
    (0.528, 1.16), (0.532, 0.98), (0.535, 0.85), (0.539, 0.69), (0.544, 0.50), (0.549, 0.36),
    (0.556, 0.28), (0.563, 0.23), (0.570, 0.15), (0.577, 0.25), (0.584, 0.12), (0.591, 0.30),
    (0.598, 0.18), (0.605, 0.22), (0.612, 0.10), (0.619, 0.28), (0.626, 0.15), (0.633, 0.20),
    (0.640, 0.08), (0.647, 0.25), (0.654, 0.12), (0.661, 0.18), (0.668, 0.10), (0.675, 0.22),
    (0.682, 0.10), (0.689, 0.25), (0.696, 0.12), (0.703, 0.20), (0.710, 0.08), (0.717, 0.15),
    (0.724, 0.05), (0.731, 0.18), (0.738, 0.08), (0.745, 0.12), (0.752, 0.05), (0.759, 0.15),
    (0.766, 0.10), (0.773, 0.20), (0.780, 0.12), (0.787, 0.35), (0.794, 0.25), (0.801, 0.45),
    (0.808, 0.40), (0.815, 0.20), (0.822, 0.10), (0.829, 0.30), (0.836, 0.15), (0.843, 0.05),
    (0.850, 0.20), (0.857, 0.08), (0.864, 0.15), (0.871, 0.05), (0.878, 0.12), (0.885, 0.04),
    (0.892, 0.10), (0.899, 0.05), (0.906, 0.08), (0.913, 0.03), (0.920, 0.06), (0.927, 0.10),
    (0.932, 0.35), (0.936, 0.55), (0.940, 0.50), (0.944, 0.70), (0.948, 0.65), (0.952, 0.90),
    (0.956, 0.85), (0.960, 1.05), (0.965, 1.10), (0.970, 1.15), (0.975, 1.22), (0.980, 1.18),
    (0.985, 1.28), (0.990, 1.25), (0.995, 1.35), (1.000, 1.30), (1.005, 1.40), (1.010, 1.35),
    (1.015, 1.45), (1.020, 1.38), (1.025, 1.48), (1.030, 1.42), (1.035, 1.52), (1.040, 1.48),
    (1.045, 1.58), (1.050, 1.52), (1.055, 1.62), (1.060, 1.58), (1.065, 1.70), (1.070, 1.72),
    (1.075, 1.85), (1.080, 1.90), (1.085, 2.05), (1.090, 2.25), (1.095, 2.40), (1.100, 2.35),
]

top_label = r"V$_\mathrm{S}$ top"
bot_label = r"V$_\mathrm{S}$ bottom"
bare_label = r"bare WS$_2$"


def xy(pairs):
    arr = np.array(pairs)
    return arr[:, 0], arr[:, 1]


def add_legend(ax, anchor):
    leg = ax.legend(fontsize=17, loc="upper left", bbox_to_anchor=anchor,
                    borderaxespad=0, labelspacing=0.22, borderpad=0.35,
                    handlelength=2.4, handletextpad=0.8)
    for line in leg.get_lines():
        line.set_linewidth(2.4)
    return leg


fig = plt.figure(figsize=(6.26, 12.14), dpi=100)

ax_a = fig.add_axes([0.1709, 0.7364, 0.8275, 0.2578])
ax_b = fig.add_axes([0.1709, 0.3929, 0.8275, 0.2587])
ax_c = fig.add_axes([0.1725, 0.0511, 0.8259, 0.2587])

# panel a
x, y = xy(a_top)
ax_a.plot(x, y, color=DARK, lw=1.6, label=top_label, zorder=3)
x, y = xy(a_bare)
ax_a.plot(x, y, color=ORANGE, lw=1.6, label=bare_label, zorder=2)
ax_a.set_xlim(-2.2, 1.6)
ax_a.set_ylim(-0.145, 3.05)
ax_a.set_yticks(np.arange(0, 3.01, 0.5))
add_legend(ax_a, (0.461, 0.907))

# panel b
x, y = xy(b_bot)
ax_b.plot(x, y, color=LIGHT, lw=1.6, label=bot_label, zorder=3)
x, y = xy(b_bare)
ax_b.plot(x, y, color=ORANGE, lw=1.6, label=bare_label, zorder=2)
ax_b.set_xlim(-2.2, 1.6)
ax_b.set_ylim(-0.105, 2.1)
ax_b.set_yticks(np.arange(0, 2.01, 0.5))
add_legend(ax_b, (0.429, 0.936))

# panel c
x, y = xy(c_top)
ax_c.plot(x, y, color=DARK, lw=1.6, label=top_label, zorder=3)
x, y = xy(c_bot)
ax_c.plot(x, y, color=LIGHT, lw=1.6, label=bot_label, zorder=2)
ax_c.set_xlim(0, 1.1)
ax_c.set_ylim(-0.28, 5.97)
ax_c.set_xticks(np.arange(0, 1.01, 0.2))
ax_c.set_yticks(np.arange(0, 6, 1))
leg = add_legend(ax_c, (0.511, 0.927))
leg.get_lines()[0].set_color(TOP_LEGEND_C)

for ax in (ax_a, ax_b, ax_c):
    ax.set_xlabel("sample bias (V)", fontsize=20)
    ax.set_ylabel("dI/dV (a.u.)", fontsize=20)
    ax.tick_params(labelsize=10)

# line the y labels up the way the reference does
ax_a.yaxis.set_label_coords(-0.098, 0.5)
ax_b.yaxis.set_label_coords(-0.098, 0.5)
ax_c.yaxis.set_label_coords(-0.100, 0.5)

# panel letters
fig.text(0.016, 1 - 32 / 1214, "a", fontsize=28, fontweight="bold", va="baseline")
fig.text(0.016, 1 - 453 / 1214, "b", fontsize=28, fontweight="bold", va="baseline")
fig.text(0.016, 1 - 863 / 1214, "c", fontsize=28, fontweight="bold", va="baseline")

fig.savefig("out.png", dpi=100)
